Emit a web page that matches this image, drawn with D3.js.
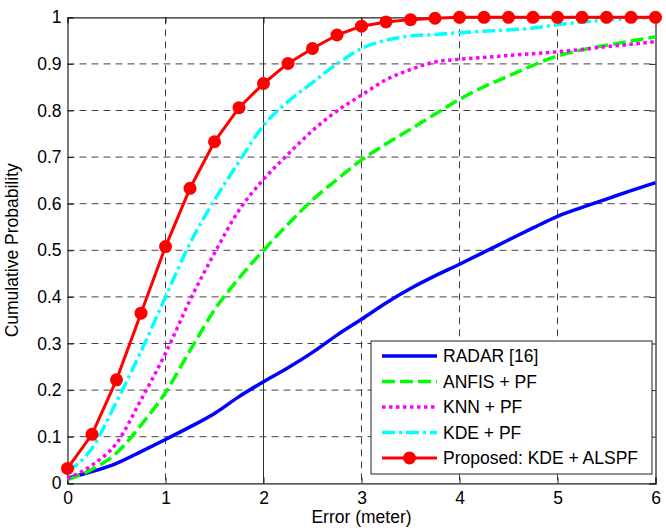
<!DOCTYPE html>
<html>
<head>
<meta charset="utf-8">
<script src="https://cdn.jsdelivr.net/npm/d3@7"></script>
<style>
  html, body { margin: 0; padding: 0; background: #fff; }
  svg text { font-family: "Liberation Sans", Arial, sans-serif; fill: #000; }
</style>
</head>
<body>
<svg id="chart" width="666" height="531"></svg>
<script>
// Localization error (m) sampled every 0.25 m
const errors = [0, 0.25, 0.5, 0.75, 1, 1.25, 1.5, 1.75, 2, 2.25, 2.5, 2.75, 3,
                3.25, 3.5, 3.75, 4, 4.25, 4.5, 4.75, 5, 5.25, 5.5, 5.75, 6];

// Cumulative probability of each method
const radar = [0.011, 0.025, 0.043, 0.068, 0.094, 0.121, 0.15, 0.186, 0.218, 0.248, 0.281, 0.318, 0.352,
               0.387, 0.418, 0.445, 0.47, 0.496, 0.522, 0.548, 0.573, 0.592, 0.61, 0.628, 0.645];
const anfisPf = [0.008, 0.03, 0.065, 0.125, 0.195, 0.285, 0.372, 0.44, 0.5, 0.556, 0.608, 0.652, 0.694,
                 0.728, 0.76, 0.792, 0.824, 0.851, 0.874, 0.897, 0.917, 0.93, 0.94, 0.949, 0.958];
const knnPf = [0.01, 0.039, 0.086, 0.179, 0.279, 0.393, 0.494, 0.586, 0.652, 0.706, 0.757, 0.799, 0.833,
               0.866, 0.888, 0.904, 0.91, 0.914, 0.918, 0.922, 0.926, 0.931, 0.937, 0.942, 0.948];
const kdePf = [0.025, 0.075, 0.175, 0.283, 0.4, 0.515, 0.608, 0.69, 0.768, 0.819, 0.86, 0.9, 0.933,
               0.951, 0.96, 0.963, 0.967, 0.97, 0.973, 0.977, 0.984, 0.99, 0.994, 0.997, 0.999];
const proposed = [0.032, 0.105, 0.222, 0.365, 0.508, 0.633, 0.733, 0.806, 0.858, 0.901, 0.933, 0.962, 0.981,
                  0.99, 0.995, 0.998, 1, 1, 1, 1, 1, 1, 1, 1, 1];

const seriesNames = ["RADAR [16]", "ANFIS + PF", "KNN + PF", "KDE + PF", "Proposed: KDE + ALSPF"];

const xTicks = [0, 1, 2, 3, 4, 5, 6];
const yTicks = [0, 0.1, 0.2, 0.3, 0.4, 0.5, 0.6, 0.7, 0.8, 0.9, 1];
const xTickLabels = ["0", "1", "2", "3", "4", "5", "6"];
const yTickLabels = ["0", "0.1", "0.2", "0.3", "0.4", "0.5", "0.6", "0.7", "0.8", "0.9", "1"];

const xLabel = "Error (meter)";
const yLabel = "Cumulative Probability";

// ---- layout ----
const svg = d3.select("#chart");
const plot = { left: 67.5, top: 17.3, right: 655.5, bottom: 483.3 };
const FONT = 17.5;

const x = d3.scaleLinear().domain([0, 6]).range([plot.left, plot.right]);
const y = d3.scaleLinear().domain([0, 1]).range([plot.bottom, plot.top]);

// ---- grid ----
const grid = svg.append("g").attr("class", "grid");
grid.selectAll("line.gx")
  .data(xTicks.slice(1, -1))
  .join("line")
  .attr("x1", d => x(d)).attr("x2", d => x(d))
  .attr("y1", plot.top).attr("y2", plot.bottom)
  .attr("stroke", d => d === 2 ? "#333" : "#444")
  .attr("stroke-width", 1)
  .attr("stroke-dasharray", d => d === 2 ? null : "7,5");
grid.selectAll("line.gy")
  .data(yTicks.slice(1, -1))
  .join("line")
  .attr("x1", plot.left).attr("x2", plot.right)
  .attr("y1", d => y(d)).attr("y2", d => y(d))
  .attr("stroke", "#444")
  .attr("stroke-width", 1)
  .attr("stroke-dasharray", "7,5");

// ---- axes (inward ticks on all four sides) ----
const tickLen = 6;
const axB = svg.append("g")
  .attr("transform", `translate(0,${plot.bottom})`)
  .call(d3.axisBottom(x).tickValues(xTicks).tickSize(-tickLen).tickPadding(8)
        .tickFormat((d, i) => xTickLabels[i]));
const axL = svg.append("g")
  .attr("transform", `translate(${plot.left},0)`)
  .call(d3.axisLeft(y).tickValues(yTicks).tickSize(-tickLen).tickPadding(6)
        .tickFormat((d, i) => yTickLabels[i]));
const axT = svg.append("g")
  .attr("transform", `translate(0,${plot.top})`)
  .call(d3.axisTop(x).tickValues(xTicks).tickSize(-tickLen).tickFormat(""));
const axR = svg.append("g")
  .attr("transform", `translate(${plot.right},0)`)
  .call(d3.axisRight(y).tickValues(yTicks).tickSize(-tickLen).tickFormat(""));

[axB, axL, axT, axR].forEach(g => {
  g.select(".domain").attr("stroke", "#222").attr("stroke-width", 1.2);
  g.selectAll(".tick line").attr("stroke", "#222").attr("stroke-width", 1);
  g.selectAll(".tick text").style("font-size", FONT + "px")
   .style("font-family", '"Liberation Sans", Arial, sans-serif').attr("fill", "#000");
});

// axis titles
svg.append("text")
  .attr("x", (plot.left + plot.right) / 2)
  .attr("y", 523)
  .attr("text-anchor", "middle")
  .style("font-size", FONT + "px")
  .text(xLabel);
svg.append("text")
  .attr("transform", `translate(18,${(plot.top + plot.bottom) / 2}) rotate(-90)`)
  .attr("text-anchor", "middle")
  .style("font-size", FONT + "px")
  .text(yLabel);

// ---- curves ----
const styles = [
  { values: radar,    color: "#0000ff", width: 3.5, dash: null },
  { values: anfisPf,  color: "#00ff00", width: 3.5, dash: "13,5" },
  { values: knnPf,    color: "#ff00ff", width: 3.5, dash: "3.5,3.5" },
  { values: kdePf,    color: "#00ffff", width: 3.5, dash: "13,4,3,4" },
  { values: proposed, color: "#ff0000", width: 3,   dash: null, marker: true }
];

const smoothLine = d3.line()
  .x((d, i) => x(errors[i]))
  .y(d => y(d))
  .curve(d3.curveMonotoneX);
const straightLine = d3.line()
  .x((d, i) => x(errors[i]))
  .y(d => y(d));

const curves = svg.append("g").attr("class", "curves");
styles.forEach(s => {
  curves.append("path")
    .datum(s.values)
    .attr("d", s.marker ? straightLine : smoothLine)
    .attr("fill", "none")
    .attr("stroke", s.color)
    .attr("stroke-width", s.width)
    .attr("stroke-linejoin", "round")
    .attr("stroke-dasharray", s.dash);
  if (s.marker) {
    curves.selectAll("circle.m")
      .data(s.values)
      .join("circle")
      .attr("cx", (d, i) => x(errors[i]))
      .attr("cy", d => y(d))
      .attr("r", 6.5)
      .attr("fill", s.color);
  }
});

// ---- legend ----
const legend = svg.append("g").attr("class", "legend");
const lg = { x: 371, y: 341, w: 281, h: 133, rowH: 25.5, first: 356 };
legend.append("rect")
  .attr("x", lg.x).attr("y", lg.y).attr("width", lg.w).attr("height", lg.h)
  .attr("fill", "#fff").attr("stroke", "#222").attr("stroke-width", 1);

styles.forEach((s, i) => {
  const cy = lg.first + i * lg.rowH;
  legend.append("line")
    .attr("x1", 382).attr("x2", 437).attr("y1", cy).attr("y2", cy)
    .attr("stroke", s.color).attr("stroke-width", s.width)
    .attr("stroke-dasharray", s.dash);
  if (s.marker) {
    legend.append("circle").attr("cx", 409.5).attr("cy", cy).attr("r", 6.5).attr("fill", s.color);
  }
  legend.append("text")
    .attr("x", 443).attr("y", cy)
    .attr("dy", "0.35em")
    .style("font-size", FONT + "px")
    .text(seriesNames[i]);
});
</script>
</body>
</html>
